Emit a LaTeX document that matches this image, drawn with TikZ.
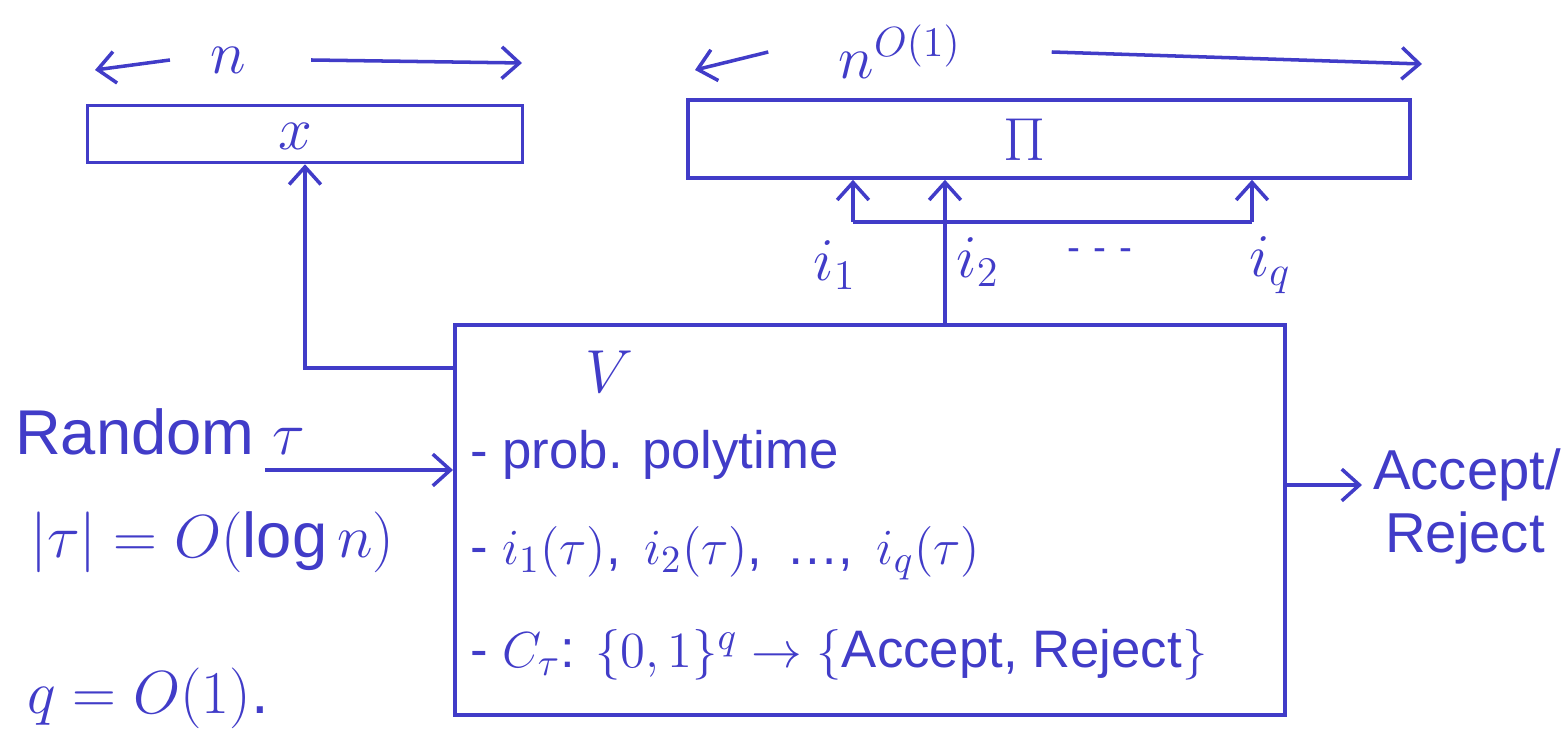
\documentclass[tikz,border=0pt]{standalone}
\usepackage{fontspec}
\setmainfont{Liberation Sans}
\usetikzlibrary{arrows.meta}
\definecolor{ink}{RGB}{65,60,200}
\begin{document}
\begin{tikzpicture}[x=0.01cm,y=-0.01cm,line width=1pt,draw=ink,text=ink,
  tape/.style={draw=ink,inner sep=0pt},
  arr/.style={-{Straight Barb[length=5pt,width=9pt,line width=1pt]}},
  lbl/.style={text=ink,inner sep=1pt,font=\fontsize{18}{22}\selectfont},
  side/.style={text=ink,inner sep=1pt,anchor=west,font=\fontsize{16}{19}\selectfont},
  inlbl/.style={text=ink,inner sep=1pt,anchor=west,font=\fontsize{15}{18}\selectfont}]
\useasboundingbox (0,0) rectangle (1565,734);
% tapes
\node[tape,minimum width=4.35cm,minimum height=0.57cm] (xtape) at (305,134) {};
\node[lbl] (xlbl) at (295,136) {$x$};
\node[tape,minimum width=7.22cm,minimum height=0.78cm] (pi) at (1049,139) {};
\node[lbl] (pilbl) at (1025,140) {$\Pi$};
% length labels
\node[lbl] (nlbl) at (228,60) {$n$};
\coordinate (nl) at (95,70);
\coordinate (nr) at (522,63);
\draw[arr] ([xshift=-0.35cm]nlbl.west) -- (nl);
\draw[arr] ([xshift=0.6cm]nlbl.east) -- (nr);
\node[lbl] (Nlbl) at (900,52) {$n^{O(1)}$};
\coordinate (Nl) at (695,70);
\coordinate (Nr) at (1422,64);
\draw[arr] ([xshift=-0.65cm]Nlbl.west) -- (Nl);
\draw[arr] ([xshift=0.85cm]Nlbl.east) -- (Nr);
% verifier box
\node[tape,minimum width=8.3cm,minimum height=3.9cm] (V) at (870,520) {};
\node[lbl] (vlbl) at (609,372) {$V$};
\node[inlbl] (l1) at (465,455) {- prob. polytime};
\node[inlbl] (l2) at (465,553) {- $i_1(\tau)$,\, $i_2(\tau)$,\, \dots,\, $i_q(\tau)$};
\node[inlbl] (l3) at (465,655) {- $C_\tau$: $\{0,1\}^q \to \{$Accept, Reject$\}$};
% queries
\coordinate (ib1) at (853,222);
\coordinate (ibq) at (1252,222);
\coordinate (i2b) at (945,325);
\draw (ib1) -- (ibq);
\draw[arr] (ib1) -- (ib1 |- pi.south);
\draw[arr] (ibq) -- (ibq |- pi.south);
\draw[arr] (i2b) -- (i2b |- pi.south);
\node[lbl] (i1) at (835,265) {$i_1$};
\node[lbl] (i2) at (978,262) {$i_2$};
\node[lbl,font=\fontsize{11}{13}\selectfont] (idots) at (1100,255) {-\,\,-\,\,-};
\node[lbl] (iq) at (1270,265) {$i_q$};
% V to x
\coordinate (vx) at (455,368);
\draw[arr] (vx) -| (xtape.south);
% randomness
\node[lbl,anchor=west] (rand) at (10,432) {Random $\tau$};
\node[lbl,anchor=west] (rlen) at (25,542) {$|\tau| = O(\log n)$};
\node[lbl,anchor=west] (qc) at (22,698) {$q = O(1)$.};
\coordinate (rs) at (265,470);
\draw[arr] (rs) -- (rs -| V.west);
% output
\coordinate (ae) at (1362,485);
\draw[arr] (ae -| V.east) -- (ae);
\node[side] (acc) at (1368,475) {Accept/};
\node[side] (rej) at (1380,538) {Reject};
\end{tikzpicture}
\end{document}
